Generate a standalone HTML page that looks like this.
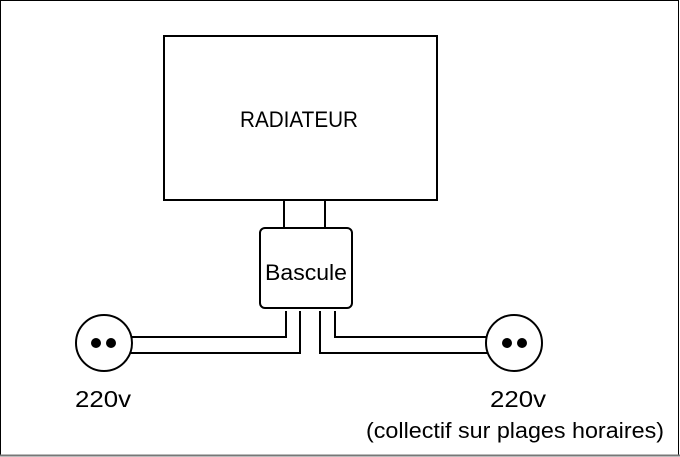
<!DOCTYPE html>
<html><head><meta charset="utf-8"><style>
html,body{margin:0;padding:0;background:#fff;}
svg{display:block;}
text{font-family:"Liberation Sans",sans-serif;fill:#000;}
</style></head><body>
<svg width="680" height="457" viewBox="0 0 680 457" xmlns="http://www.w3.org/2000/svg">
<rect x="0.5" y="0.5" width="678" height="455" fill="#fff" stroke="#000" stroke-width="1"/>
<line x1="0" y1="455.5" x2="680" y2="455.5" stroke="#777" stroke-width="2"/>
<g fill="none" stroke="#000" stroke-width="2">
<rect x="164" y="36" width="273" height="164"/>
<line x1="284" y1="200" x2="284" y2="228"/>
<line x1="325" y1="200" x2="325" y2="228"/>
<rect x="260" y="228" width="92" height="80" rx="5"/>
<polyline points="286,311 286,337 131,337"/>
<polyline points="300,311 300,353 131,353"/>
<polyline points="320,311 320,353 487,353"/>
<polyline points="335,311 335,337 487,337"/>
<circle cx="104" cy="343" r="28" fill="#fff"/>
<circle cx="514" cy="343" r="28" fill="#fff"/>
</g>
<g fill="#000">
<circle cx="96" cy="343" r="5"/><circle cx="111" cy="343" r="5"/>
<circle cx="507" cy="343" r="5"/><circle cx="522" cy="343" r="5"/>
</g>
<text x="240" y="127" font-size="22" textLength="118" lengthAdjust="spacingAndGlyphs">RADIATEUR</text>
<text x="265" y="280" font-size="22" textLength="82" lengthAdjust="spacingAndGlyphs">Bascule</text>
<text x="75" y="407" font-size="23" textLength="56" lengthAdjust="spacingAndGlyphs">220v</text>
<text x="490" y="407" font-size="23" textLength="56" lengthAdjust="spacingAndGlyphs">220v</text>
<text x="366" y="438" font-size="22" textLength="298" lengthAdjust="spacingAndGlyphs">(collectif sur plages horaires)</text>
</svg>
</body></html>
